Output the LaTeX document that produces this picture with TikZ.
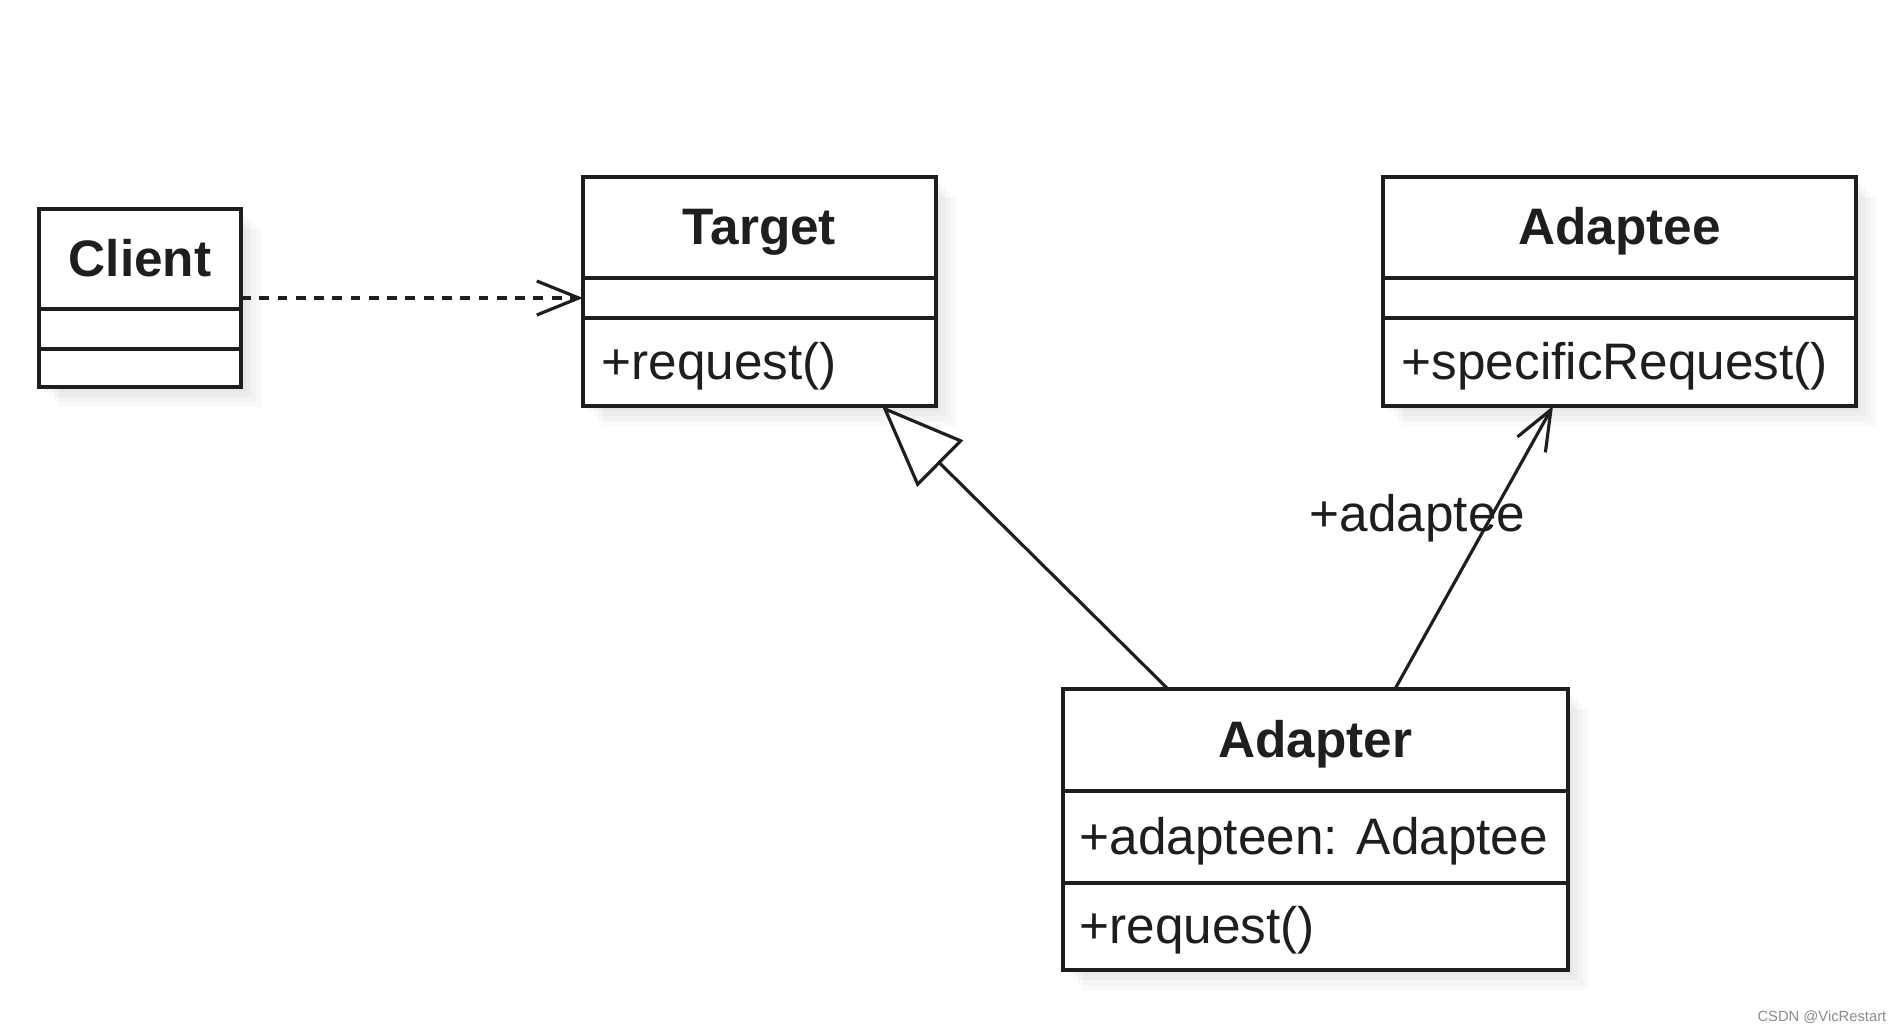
\documentclass[tikz,border=0pt]{standalone}
\usepackage{fontspec}
\setmainfont{Liberation Sans}
\usetikzlibrary{arrows.meta,calc}
\definecolor{ink}{HTML}{1E1E1E}
\newcommand\shbox[4]{%
  \foreach \d in {5,10,15,20}{\fill[black, opacity=0.022] (#1+\d,#2+\d) rectangle (#3+\d,#4+\d);}}
\begin{document}
\begin{tikzpicture}[x=0.1mm,y=-0.1mm,
  box/.style={draw=ink, line width=0.9pt, fill=white, inner sep=0pt, outer sep=0pt, rectangle},
  title/.style={font=\fontsize{14.6}{17}\selectfont\bfseries, text=ink, inner sep=0pt, anchor=base},
  member/.style={font=\fontsize{14.6}{17}\selectfont, text=ink, inner sep=0pt, anchor=base west},
  divider/.style={draw=ink, line width=0.9pt},
  conn/.style={draw=ink, line width=0.9pt}]

\useasboundingbox (0,0) rectangle (1902,1032);
\fill[white] (0,0) rectangle (1902,1032);

% shadows
\shbox{39}{209}{241}{387}
\shbox{583}{177}{936}{406}
\shbox{1383}{177}{1856}{406}
\shbox{1063}{689}{1568}{970}

% Client
\node[box, minimum width=20.2mm, minimum height=17.8mm] (client) at (140,298) {};
\draw[divider] (39,309) -- (241,309);
\draw[divider] (39,349) -- (241,349);
\node[title] (clientT) at (140,276) {Client};

% Target
\node[box, minimum width=35.3mm, minimum height=22.9mm] (target) at (759.5,291.5) {};
\draw[divider] (583,278) -- (936,278);
\draw[divider] (583,318) -- (936,318);
\node[title] (targetT) at (759.5,244.5) {Target};
\node[member] (targetM) at (601,379) {+request()};

% Adaptee
\node[box, minimum width=47.3mm, minimum height=22.9mm] (adaptee) at (1619.5,291.5) {};
\draw[divider] (1383,278) -- (1856,278);
\draw[divider] (1383,318) -- (1856,318);
\node[title] (adapteeT) at (1619.5,244.5) {Adaptee};
\node[member] (adapteeM) at (1401,379) {+specificRequest()};

% Adapter
\node[box, minimum width=50.5mm, minimum height=28.1mm] (adapter) at (1315.5,829.5) {};
\draw[divider] (1063,791) -- (1568,791);
\draw[divider] (1063,883) -- (1568,883);
\node[title] (adapterT) at (1315.5,757) {Adapter};
\node[member] (adapterA) at (1079,854) {+adapteen: Adaptee};
\node[member] (adapterM) at (1079,943.5) {+request()};

% connectors
\draw[conn, dash pattern=on 2.8pt off 2.4pt, -{Straight Barb[length=4.2mm, width=3.4mm]}]
  (client.east) -- (client.east -| target.west);
\draw[conn, -{Triangle[fill=white, length=8.2mm, width=6.5mm]}]
  ([xshift=10.5mm]adapter.north west) -- ([xshift=-5.4mm]target.south east);
\draw[conn, -{Straight Barb[length=4mm, width=3.2mm]}]
  ([xshift=33.2mm]adapter.north west) -- ([xshift=-30.3mm]adaptee.south east);
\node[member] (lbl) at (1309,531) {+adaptee};

% watermark
\node[font=\fontsize{4.2}{5}\selectfont, text=black!45, anchor=base east, inner sep=0pt] (wm) at (1887,1021) {CSDN @VicRestart};
\end{tikzpicture}
\end{document}
